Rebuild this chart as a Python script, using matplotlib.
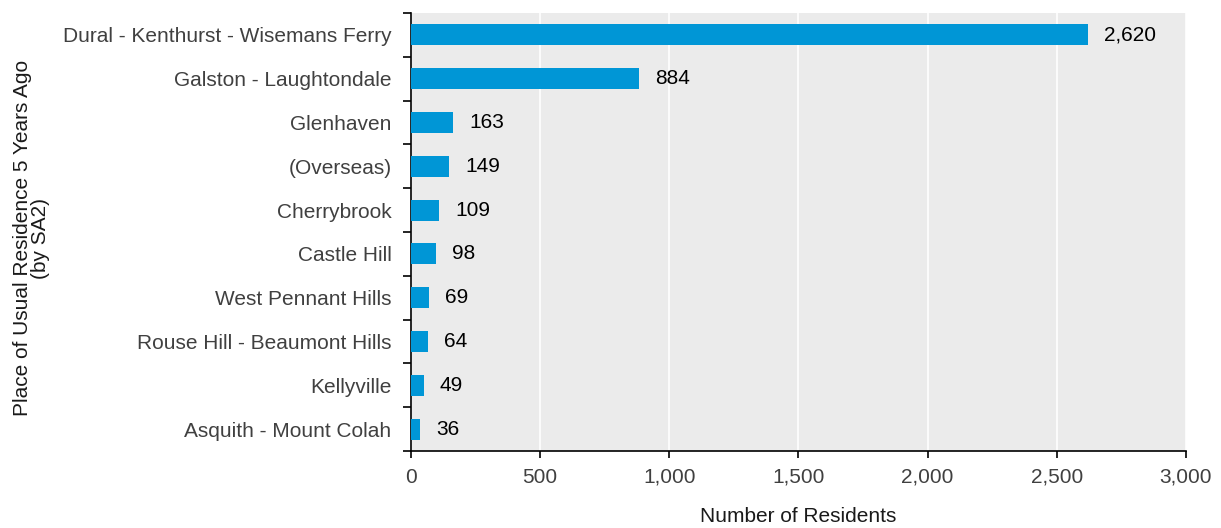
import numpy as np
import matplotlib.pyplot as plt
from matplotlib.ticker import FuncFormatter, FixedLocator

plt.rcParams['font.family'] = ['Liberation Sans', 'DejaVu Sans']

# Data
places = ["Dural - Kenthurst - Wisemans Ferry", "Galston - Laughtondale", "Glenhaven",
          "(Overseas)", "Cherrybrook", "Castle Hill", "West Pennant Hills",
          "Rouse Hill - Beaumont Hills", "Kellyville", "Asquith - Mount Colah"]
residents = [2620, 884, 163, 149, 109, 98, 69, 64, 49, 36]

fig = plt.figure(figsize=(12.21, 5.28), dpi=100)
ax = fig.add_axes([0.3366, 0.1458, 0.9713 - 0.3366, 0.9754 - 0.1458])
ax.set_facecolor('#EBEBEB')

y = np.arange(len(places))
ax.barh(y, residents, height=0.48, color='#0096D6', zorder=3)
for yi, v in zip(y, residents):
    ax.text(v + 62, yi, f"{v:,}", va='center', ha='left', fontsize=15, color='black')

ax.set_xlim(0, 3000)
ax.set_ylim(len(places) - 0.5, -0.5)
ax.set_xticks(np.arange(0, 3001, 500))
ax.xaxis.set_major_formatter(FuncFormatter(lambda v, p: f"{int(v):,}"))
ax.set_yticks(y)
ax.set_yticklabels(places)
ax.yaxis.set_minor_locator(FixedLocator(np.arange(-0.5, len(places), 1)))
ax.tick_params(axis='y', which='major', length=0, pad=14, labelsize=15, labelcolor='#404040')
ax.tick_params(axis='y', which='minor', length=6, width=1.2, direction='out')
ax.tick_params(axis='x', which='major', length=5, width=1.2, direction='out', pad=7,
               labelsize=15, labelcolor='#404040')

ax.grid(axis='x', color='white', linewidth=1.2, zorder=0)
ax.set_axisbelow(True)
for s in ['top', 'right']:
    ax.spines[s].set_visible(False)
ax.spines['left'].set_linewidth(1.2)
ax.spines['bottom'].set_linewidth(1.2)

ax.set_xlabel('Number of Residents', fontsize=15, color='#1a1a1a')
ax.xaxis.set_label_coords(0.5, -0.128)
ax.set_ylabel('Place of Usual Residence 5 Years Ago\n(by SA2)', fontsize=15,
              color='#1a1a1a', linespacing=0.95)
ax.yaxis.set_label_coords(-0.466, 0.486)

fig.savefig('out.png', dpi=100)
